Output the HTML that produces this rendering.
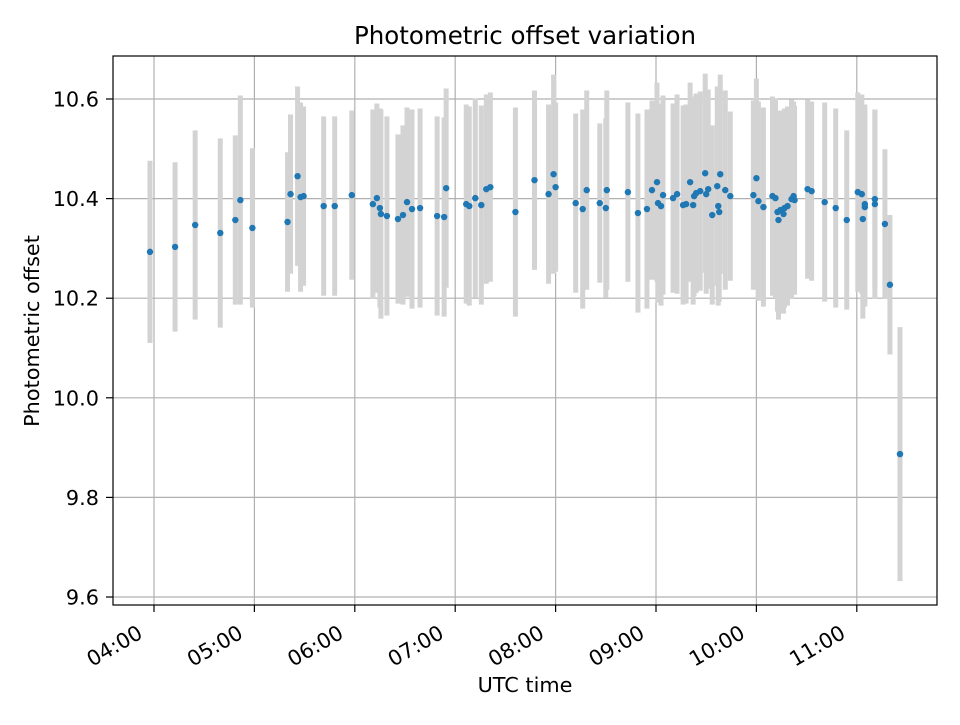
<!DOCTYPE html>
<html><head><meta charset="utf-8"><style>
body{margin:0;background:#fff}
svg text{font-family:"DejaVu Sans","Liberation Sans",sans-serif;fill:#000}
</style></head><body>
<svg id="chart" width="960" height="720" xmlns="http://www.w3.org/2000/svg">
<rect width="960" height="720" fill="#fff"/>
<g id="grid"></g>
<g id="errs"></g>
<g id="pts"></g>
<rect x="113" y="56" width="824" height="549" fill="none" stroke="#000" stroke-width="1.2"/>
<g id="ticks"></g>
<text x="525" y="44" font-size="24.5" text-anchor="middle">Photometric offset variation</text>
<text x="525" y="692" font-size="20.8" text-anchor="middle">UTC time</text>
<text x="39" y="331" font-size="20.8" text-anchor="middle" transform="rotate(-90 39 331)">Photometric offset</text>
</svg>
<script>
const times=[3.96,4.21,4.41,4.66,4.81,4.86,4.98,5.33,5.36,5.43,5.46,5.49,5.69,5.80,5.97,6.18,6.22,6.25,6.26,6.32,6.43,6.48,6.52,6.57,6.65,6.82,6.89,6.91,7.11,7.14,7.20,7.26,7.31,7.35,7.60,7.79,7.93,7.98,8.00,8.20,8.27,8.31,8.44,8.50,8.51,8.72,8.82,8.91,8.96,9.01,9.02,9.05,9.07,9.17,9.21,9.27,9.30,9.34,9.37,9.38,9.40,9.44,9.50,9.56,9.63,9.49,9.52,9.61,9.64,9.69,9.62,9.74,9.97,10.00,10.02,10.07,10.16,10.19,10.21,10.22,10.24,10.27,10.28,10.31,10.35,10.37,10.38,10.51,10.55,10.68,10.79,10.90,11.01,11.05,11.06,11.08,11.08,11.18,11.18,11.28,11.33,11.43];
const values=[10.293,10.303,10.347,10.331,10.357,10.397,10.341,10.353,10.409,10.445,10.403,10.405,10.385,10.385,10.407,10.389,10.401,10.381,10.369,10.365,10.359,10.367,10.393,10.379,10.381,10.365,10.363,10.421,10.389,10.385,10.401,10.387,10.419,10.423,10.373,10.437,10.409,10.449,10.423,10.391,10.379,10.417,10.391,10.381,10.417,10.413,10.371,10.379,10.417,10.433,10.391,10.385,10.407,10.401,10.409,10.387,10.389,10.433,10.387,10.405,10.411,10.415,10.409,10.367,10.373,10.451,10.419,10.425,10.449,10.417,10.385,10.405,10.407,10.441,10.395,10.383,10.405,10.401,10.373,10.357,10.377,10.369,10.381,10.385,10.399,10.405,10.397,10.419,10.415,10.393,10.381,10.357,10.413,10.409,10.359,10.383,10.389,10.389,10.399,10.349,10.227,9.887];
const errors=[0.183,0.17,0.19,0.19,0.17,0.21,0.16,0.14,0.16,0.18,0.19,0.18,0.18,0.18,0.17,0.19,0.19,0.2,0.21,0.2,0.17,0.18,0.19,0.2,0.2,0.2,0.2,0.2,0.2,0.2,0.2,0.2,0.19,0.19,0.21,0.18,0.18,0.2,0.17,0.18,0.2,0.2,0.16,0.18,0.2,0.18,0.2,0.2,0.18,0.2,0.2,0.2,0.2,0.19,0.2,0.2,0.2,0.2,0.2,0.2,0.2,0.2,0.2,0.18,0.18,0.2,0.2,0.2,0.2,0.2,0.2,0.17,0.19,0.2,0.2,0.2,0.2,0.2,0.2,0.2,0.2,0.2,0.2,0.2,0.2,0.19,0.19,0.18,0.18,0.2,0.2,0.18,0.2,0.2,0.2,0.2,0.2,0.19,0.18,0.15,0.14,0.255];
const yTicks=[9.6,9.8,10.0,10.2,10.4,10.6];
const xTicks=[4,5,6,7,8,9,10,11];
const xTickLabels=["04:00","05:00","06:00","07:00","08:00","09:00","10:00","11:00"];
const X=h=>154+(h-4)*100.4;
const Y=v=>99+(10.6-v)*498;
const NS="http://www.w3.org/2000/svg";
function mk(tag,attrs,parent,txt){const e=document.createElementNS(NS,tag);for(const k in attrs)e.setAttribute(k,attrs[k]);if(txt!==undefined)e.textContent=txt;document.getElementById(parent).appendChild(e);return e;}
yTicks.forEach((t,i)=>{
  const y=Y(t);
  const g=mk('line',{x1:113,x2:937,y1:y,y2:y,stroke:'#b0b0b0','stroke-width':1.2},'grid');
  
  
  const tk=mk('line',{x1:106,x2:113,y1:y,y2:y,stroke:'#000','stroke-width':1.2},'ticks');
  
  
  const lb=mk('text',{x:99,y:y+7.5,'font-size':20.8,'text-anchor':'end'},'ticks',t.toFixed(1));
  
  
});
xTicks.forEach((t,i)=>{
  const x=X(t);
  const g=mk('line',{x1:x,x2:x,y1:56,y2:605,stroke:'#b0b0b0','stroke-width':1.2},'grid');
  
  
  const tk=mk('line',{x1:x,x2:x,y1:605,y2:612,stroke:'#000','stroke-width':1.2},'ticks');
  
  
  const ax=x-10, ay=637;
  const lb=mk('text',{x:ax,y:ay,'font-size':20.8,'text-anchor':'end',transform:`rotate(-30 ${ax} ${ay})`},'ticks',xTickLabels[i]);
  
  
});
times.forEach((t,i)=>{
  const x=X(t);
  const e=mk('line',{x1:x,x2:x,y1:Y(values[i]+errors[i]),y2:Y(values[i]-errors[i]),stroke:'#d3d3d3','stroke-width':5},'errs');
  
  
});
times.forEach((t,i)=>{
  const c=mk('circle',{cx:X(t),cy:Y(values[i]),r:3.2,fill:'#1f77b4'},'pts');
  
  
});
</script>
</body></html>
